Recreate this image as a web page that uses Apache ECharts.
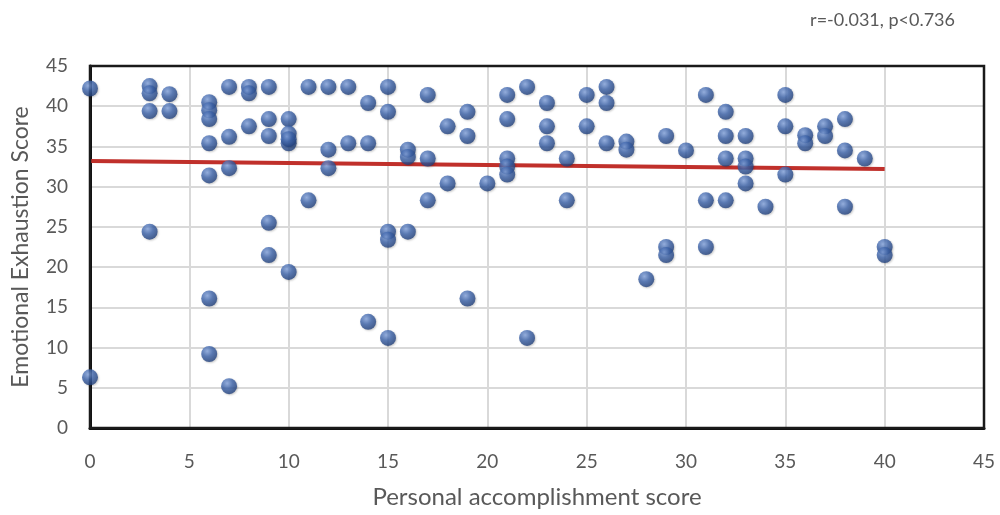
<!DOCTYPE html>
<html>
<head>
<meta charset="utf-8">
<title>Personal accomplishment vs emotional exhaustion</title>
<script src="https://cdn.jsdelivr.net/npm/echarts@6/dist/echarts.min.js"></script>
<style>
  html, body { margin: 0; padding: 0; background: #ffffff; }
  #chart { width: 1000px; height: 515px; }
</style>
</head>
<body>
<div id="chart"></div>
<script>
// Personal accomplishment score (x) for each respondent
const accomplishment = [
  0, 0,
  3, 3, 3, 3,
  4, 4,
  6, 6, 6, 6, 6, 6, 6,
  7, 7, 7, 7,
  8, 8, 8,
  9, 9, 9, 9, 9,
  10, 10, 10, 10, 10,
  11, 11,
  12, 12, 12,
  13, 13,
  14, 14, 14,
  15, 15, 15, 15, 15,
  16, 16, 16,
  17, 17, 17,
  18, 18,
  19, 19, 19,
  20,
  21, 21, 21, 21, 21,
  22, 22,
  23, 23, 23,
  24, 24,
  25, 25,
  26, 26, 26,
  27, 27,
  28,
  29, 29, 29,
  30,
  31, 31, 31,
  32, 32, 32, 32,
  33, 33, 33, 33,
  34,
  35, 35, 35,
  36, 36,
  37, 37,
  38, 38, 38,
  39,
  40, 40
];

// Emotional exhaustion score (y) for each respondent, same order
const exhaustion = [
  42.2, 6.3,
  42.5, 41.6, 39.4, 24.4,
  41.5, 39.4,
  40.5, 39.5, 38.4, 35.4, 31.4, 16.1, 9.2,
  42.4, 36.2, 32.3, 5.2,
  42.4, 41.6, 37.5,
  42.4, 38.4, 36.3, 25.5, 21.5,
  38.4, 36.6, 35.4, 19.4, 35.9,
  42.4, 28.3,
  42.4, 34.6, 32.3,
  42.4, 35.4,
  40.4, 35.4, 13.2,
  42.4, 39.3, 24.4, 23.4, 11.2,
  34.6, 33.7, 24.4,
  41.4, 33.5, 28.3,
  37.5, 30.4,
  39.3, 36.3, 16.1,
  30.4,
  41.4, 38.4, 33.5, 32.5, 31.5,
  42.4, 11.2,
  40.4, 37.5, 35.4,
  33.5, 28.3,
  41.4, 37.5,
  42.4, 40.4, 35.4,
  35.6, 34.6,
  18.5,
  36.3, 22.5, 21.5,
  34.5,
  41.4, 28.3, 22.5,
  39.3, 36.3, 33.5, 28.3,
  36.3, 33.5, 32.5, 30.4,
  27.5,
  41.4, 37.5, 31.5,
  36.4, 35.4,
  37.5, 36.3,
  38.4, 34.5, 27.5,
  33.5,
  22.5, 21.5
];

// Fitted linear trend, start and end points
const trendX = [0, 40];
const trendY = [33.2, 32.2];

const xTicks = [0, 5, 10, 15, 20, 25, 30, 35, 40, 45];
const yTicks = [0, 5, 10, 15, 20, 25, 30, 35, 40, 45];

const statsText = 'r=-0.031, p<0.736';
const xTitle = 'Personal accomplishment score';
const yTitle = 'Emotional Exhaustion Score';

const points = accomplishment.map((x, i) => [x, exhaustion[i]]);
const trend = trendX.map((x, i) => [x, trendY[i]]);

const labelColor = '#595959';
const fontFamily = 'Lato, "Open Sans", sans-serif';

const sphere = {
  type: 'radial', x: 0.38, y: 0.32, r: 0.75,
  colorStops: [
    { offset: 0, color: '#86a6e0' },
    { offset: 0.45, color: '#3d64ab' },
    { offset: 1, color: '#1c3a74' }
  ]
};

const chart = echarts.init(document.getElementById('chart'), null, { renderer: 'canvas' });

chart.setOption({
  animation: false,
  backgroundColor: '#ffffff',
  title: {
    text: statsText,
    right: 40,
    top: 6,
    textStyle: { fontFamily, fontSize: 18, fontWeight: 'normal', color: labelColor }
  },
  grid: {
    left: 90, right: 16, top: 66, bottom: 87,
    show: true,
    borderColor: '#1a1a1a',
    borderWidth: 2.5,
    z: 3
  },
  xAxis: {
    type: 'value',
    min: xTicks[0],
    max: xTicks[xTicks.length - 1],
    interval: xTicks[1] - xTicks[0],
    name: xTitle,
    nameLocation: 'middle',
    nameGap: 57,
    nameTextStyle: { fontFamily, fontSize: 24, color: labelColor },
    axisLine: { show: true, lineStyle: { color: '#111', width: 3 } },
    axisTick: { show: false },
    axisLabel: { fontFamily, fontSize: 19, color: labelColor, margin: 24 },
    splitLine: { show: true, showMaxLine: false, lineStyle: { color: '#d9d9d9', width: 2 } }
  },
  yAxis: {
    type: 'value',
    min: yTicks[0],
    max: yTicks[yTicks.length - 1],
    interval: yTicks[1] - yTicks[0],
    name: yTitle,
    nameLocation: 'middle',
    nameRotate: 90,
    nameGap: 58,
    nameTextStyle: { fontFamily, fontSize: 23, color: labelColor },
    axisLine: { show: true, lineStyle: { color: '#111', width: 3 } },
    axisTick: { show: false },
    axisLabel: { fontFamily, fontSize: 19, color: labelColor, margin: 22 },
    splitLine: { show: true, showMaxLine: false, lineStyle: { color: '#d9d9d9', width: 2 } }
  },
  series: [
    {
      type: 'line',
      data: trend,
      showSymbol: false,
      symbol: 'none',
      lineStyle: { color: '#c0302b', width: 4 },
      z: 2,
      silent: true
    },
    {
      type: 'scatter',
      data: points,
      symbol: 'circle',
      symbolSize: 16,
      itemStyle: {
        color: sphere,
        shadowColor: 'rgba(0,0,0,0.25)',
        shadowBlur: 2,
        shadowOffsetX: 1,
        shadowOffsetY: 1
      },
      z: 3
    }
  ]
});
</script>
</body>
</html>
